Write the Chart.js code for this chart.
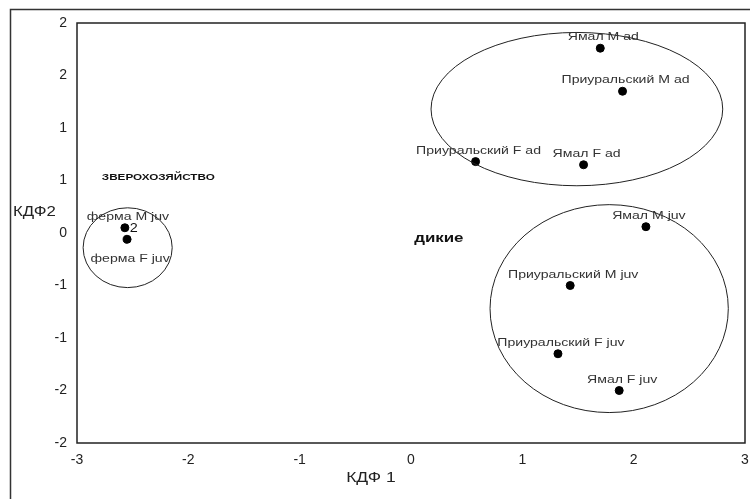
<!DOCTYPE html>
<html>
<head>
<meta charset="utf-8">
<script src="https://cdn.jsdelivr.net/npm/chart.js@4"></script>
<style>
  html, body { margin: 0; padding: 0; background: #fff; }
  #wrap { width: 750px; height: 499px; }
</style>
</head>
<body>
<div id="wrap"><canvas id="kdf"></canvas></div>
<script>
// группы: названия, КДФ1, КДФ2
const names = ['Ямал M ad', 'Приуральский M ad', 'Приуральский F ad', 'Ямал F ad',
    'Ямал M juv', 'Приуральский M juv', 'Приуральский F juv', 'Ямал F juv',
    'ферма M juv', 'ферма F juv'];
const kdf1 = [1.70, 1.90, 0.58, 1.55, 2.11, 1.43, 1.32, 1.87, -2.57, -2.55];
const kdf2 = [1.76, 1.35, 0.68, 0.65, 0.06, -0.50, -1.15, -1.50, 0.05, -0.06];
const labelSide = ['top', 'top', 'top', 'top', 'top', 'top', 'top', 'top', 'top', 'bottom'];

// подписи делений (округлённые, как в оригинале)
const xTickLabels = ['-3', '-2', '-1', '0', '1', '2', '3'];
const yTickLabels = ['-2', '-2', '-1', '-1', '0', '1', '1', '2', '2'];

// эллипсы: центр и полуоси в единицах КДФ
const ellCx = [-2.545, 1.49, 1.78];
const ellCy = [-0.14, 1.18, -0.72];
const ellRx = [0.40, 1.31, 1.07];
const ellRy = [0.38, 0.73, 0.99];

// надписи на поле
const noteText = ['ЗВЕРОХОЗЯЙСТВО', 'дикие', '2'];
const noteX = [-2.27, 0.25, -2.49];
const noteY = [0.53, -0.05, 0.04];

const FONT = '"Liberation Sans", Arial, sans-serif';

// текст, растянутый по горизонтали (оригинал немного растянут)
function wideText(c, str, x, y, font, sx) {
    c.save();
    c.translate(x, y);
    c.scale(sx, 1);
    c.font = font;
    c.fillText(str, 0, 0);
    c.restore();
}

const extras = {
    id: 'extras',
    afterDatasetsDraw(chart) {
        const c = chart.ctx, a = chart.chartArea;
        const xs = chart.scales.x, ys = chart.scales.y;
        c.save();
        // внешняя рамка
        c.strokeStyle = '#333';
        c.lineWidth = 1.5;
        c.strokeRect(10.5, 9.5, 900, 700);
        // рамка графика
        c.strokeStyle = '#222';
        c.strokeRect(a.left, a.top, a.right - a.left, a.bottom - a.top);

        // эллипсы
        c.lineWidth = 1;
        c.strokeStyle = '#222';
        for (let i = 0; i < ellCx.length; i++) {
            const cx = xs.getPixelForValue(ellCx[i]);
            const cy = ys.getPixelForValue(ellCy[i]);
            const rx = Math.abs(xs.getPixelForValue(ellCx[i] + ellRx[i]) - cx);
            const ry = Math.abs(ys.getPixelForValue(ellCy[i] + ellRy[i]) - cy);
            c.beginPath();
            c.ellipse(cx, cy, rx, ry, 0, 0, Math.PI * 2);
            c.stroke();
        }

        // подписи точек
        c.fillStyle = '#333';
        c.textAlign = 'center';
        c.textBaseline = 'middle';
        const meta = chart.getDatasetMeta(0);
        meta.data.forEach((p, i) => {
            const dy = labelSide[i] === 'top' ? -11 : 20;
            wideText(c, names[i], p.x + 3, p.y + dy, '11px ' + FONT, 1.28);
        });

        // надписи
        c.fillStyle = '#111';
        wideText(c, noteText[0], xs.getPixelForValue(noteX[0]), ys.getPixelForValue(noteY[0]), 'bold 9px ' + FONT, 1.3);
        wideText(c, noteText[1], xs.getPixelForValue(noteX[1]), ys.getPixelForValue(noteY[1]), 'bold 13px ' + FONT, 1.3);
        wideText(c, noteText[2], xs.getPixelForValue(noteX[2]), ys.getPixelForValue(noteY[2]), '12px ' + FONT, 1.2);

        // названия осей
        c.fillStyle = '#222';
        c.textAlign = 'left';
        wideText(c, 'КДФ2', 13, ys.getPixelForValue(0.2), '14px ' + FONT, 1.2);
        c.textAlign = 'center';
        wideText(c, 'КДФ 1', xs.getPixelForValue(-0.36), a.bottom + 35, '14px ' + FONT, 1.25);
        c.restore();
    }
};

new Chart(document.getElementById('kdf'), {
    type: 'scatter',
    data: {
        datasets: [{
            label: 'группы',
            data: kdf1.map((x, i) => ({ x: x, y: kdf2[i] })),
            backgroundColor: '#000',
            borderColor: '#000',
            pointRadius: 4,
            pointHoverRadius: 4
        }]
    },
    options: {
        responsive: true,
        maintainAspectRatio: false,
        animation: false,
        layout: {
            padding: { top: 23, right: 3, left: 0, bottom: 0 }
        },
        scales: {
            x: {
                type: 'linear',
                min: -3,
                max: 3,
                afterFit: s => { s.height = 56; s.paddingLeft = 0; s.paddingRight = 0; },
                grid: { display: false, drawTicks: false },
                border: { display: false },
                ticks: {
                    stepSize: 1,
                    padding: 9,
                    color: '#222',
                    font: { family: FONT, size: 14 },
                    callback: (v, i) => xTickLabels[i]
                }
            },
            y: {
                type: 'linear',
                min: -2,
                max: 2,
                afterFit: s => { s.width = 77; s.paddingTop = 0; s.paddingBottom = 0; },
                grid: { display: false, drawTicks: false },
                border: { display: false },
                ticks: {
                    stepSize: 0.5,
                    padding: 10,
                    color: '#222',
                    font: { family: FONT, size: 14 },
                    callback: (v, i) => yTickLabels[i]
                }
            }
        },
        plugins: {
            legend: { display: false },
            tooltip: { enabled: false }
        }
    },
    plugins: [extras]
});
</script>
</body>
</html>
